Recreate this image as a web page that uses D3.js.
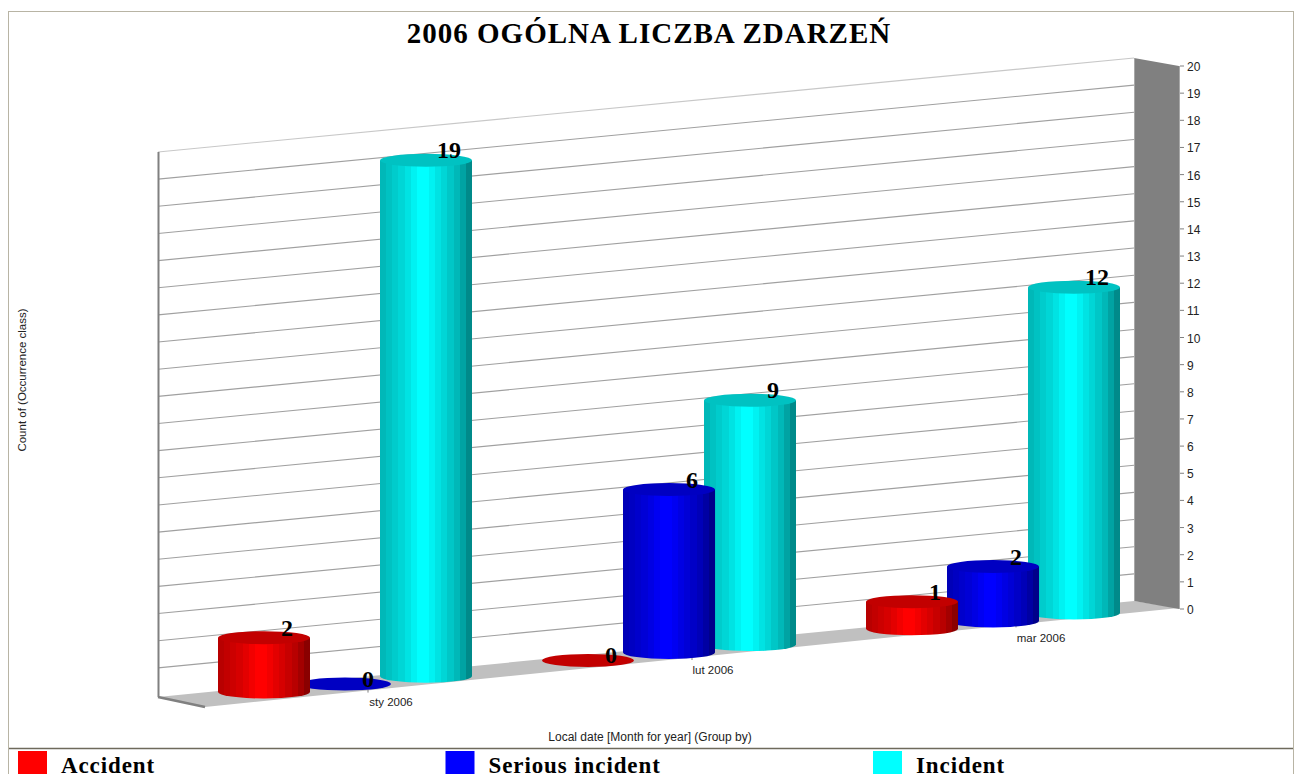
<!DOCTYPE html>
<html><head><meta charset="utf-8">
<style>html,body{margin:0;padding:0;background:#fff;overflow:hidden}svg{display:block}</style>
<script src="https://cdn.jsdelivr.net/npm/d3@7"></script></head>
<body><svg id="c" width="1298" height="774"></svg>
<script>
const titleText = "2006 OGÓLNA LICZBA ZDARZEŃ";
const months = ["sty 2006","lut 2006","mar 2006"];
const seriesNames = ["Accident","Serious incident","Incident"];
const seriesColors = ["#ff0000","#0000ff","#00ffff"];
const accident = [2,0,1];
const serious = [0,6,2];
const incident = [19,9,12];
const yTicks = d3.range(0,21);
const yLabel = "Count of (Occurrence class)";
const xLabel = "Local date [Month for year] (Group by)";
const stripes = [.72,.76,.8,.84,.89,.95,1,1,.95,.89,.84,.78,.72,.64,.54];

const svg = d3.select("#c");
const defs = svg.append("defs");
const serif = "'Liberation Serif','Times New Roman',serif";
const sans = "'Liberation Sans',Arial,sans-serif";

// projection helpers
const wallX = [158,1134];
const backY = d3.scaleLinear().domain(wallX).range([695,601]);   // wall baseline
const frontY = d3.scaleLinear().domain([205,1179]).range([707,609]);
const barBase = d3.scaleLinear().domain([264,1074]).range([692,613]);
const h = d3.scaleLinear().domain([0,20]).range([0,543]);
const xMonth = d3.scalePoint().domain(months).range([345,993]);
const xSeries = d3.scalePoint().domain(seriesNames).range([-81,81]);
const rx = 46, ry = 6.5;

// frame
svg.append("rect").attr("x",8.5).attr("y",11.5).attr("width",1285).attr("height",780)
  .attr("fill","#fff").attr("stroke","#b8b4a4");

// floor
const poly = (pts,fill)=>svg.append("polygon").attr("points",pts.map(p=>p.join(",")).join(" ")).attr("fill",fill);
poly([[158,697],[1134,601],[1179,608],[205,707]],"#c0c0c0");
// right wall
poly([[1134,58],[1179,66],[1179,609],[1134,601]],"#808080");
svg.append("path").attr("d","M1134.5,58V601M1179.5,66V609").attr("stroke","#a8a8a8").attr("fill","none");

// gridlines
svg.append("g").selectAll("line").data(yTicks.slice(1)).join("line")
  .attr("x1",wallX[0]).attr("x2",wallX[1])
  .attr("y1",d=>backY(wallX[0])-h(d)).attr("y2",d=>backY(wallX[1])-h(d))
  .attr("stroke",d=>d===20?"#c8c8c8":"#a0a0a0").attr("stroke-width",1.1);

// left wall edge and left floor edge
svg.append("line").attr("x1",158.5).attr("x2",158.5).attr("y1",152).attr("y2",697).attr("stroke","#808080").attr("stroke-width",2);
svg.append("line").attr("x1",158).attr("x2",205).attr("y1",697).attr("y2",707).attr("stroke","#808080").attr("stroke-width",2.5);

// right axis
const yRight = d3.scaleLinear().domain([0,20]).range([609,66]);
svg.append("g").selectAll("line").data(yTicks).join("line")
  .attr("x1",1180).attr("x2",1184).attr("y1",d=>yRight(d)).attr("y2",d=>yRight(d)).attr("stroke","#808080");
svg.append("g").selectAll("text").data(yTicks).join("text")
  .attr("x",1187).attr("y",d=>yRight(d)+5).text(d=>d)
  .attr("font-family",sans).attr("font-size",12).attr("fill","#222");

// month ticks and labels
const tickX = m => xMonth(m)+23;
const labelX = d3.scaleOrdinal().domain(months).range([391,713,1041]);
const labelY = d3.scalePoint().domain(months).range([706,642]);
svg.append("g").selectAll("line").data(months).join("line")
  .attr("x1",tickX).attr("x2",tickX).attr("y1",m=>frontY(tickX(m))-1).attr("y2",m=>frontY(tickX(m))+2).attr("stroke","#808080");
svg.append("g").selectAll("text").data(months).join("text")
  .attr("x",labelX).attr("y",labelY).attr("text-anchor","middle").text(d=>d)
  .attr("font-family",sans).attr("font-size",11.5).attr("fill","#222");

// gradients
seriesColors.forEach((c,i)=>{
  const g = defs.append("linearGradient").attr("id","g"+i);
  const base = d3.rgb(c);
  stripes.forEach((s,k)=>{
    const col = d3.rgb(base.r*s,base.g*s,base.b*s).formatHex();
    g.append("stop").attr("offset",k/stripes.length).attr("stop-color",col);
    g.append("stop").attr("offset",(k+1)/stripes.length).attr("stop-color",col);
  });
});

// cylinders: Incident at the back, Accident in front
const table = [accident,serious,incident];
const marks = [];
months.forEach((m,mi)=>seriesNames.forEach((s,si)=>{
  marks.push({m,s,si,v:table[si][mi]});
}));
const topTone = c=>{const b=d3.rgb(c);return d3.rgb(b.r*.76,b.g*.76,b.b*.76).formatHex();};
marks.slice().sort((a,b)=>b.si-a.si).forEach(d=>{
  const cx = xMonth(d.m)+xSeries(d.s);
  const by = barBase(cx), ty = by-h(d.v);
  if(d.v>0){
    svg.append("path")
      .attr("d",`M${cx-rx},${ty}V${by}A${rx},${ry} 0 0 0 ${cx+rx},${by}V${ty}Z`)
      .attr("fill",`url(#g${d.si})`);
  }
  svg.append("ellipse").attr("cx",cx).attr("cy",ty).attr("rx",rx).attr("ry",ry)
    .attr("fill",topTone(seriesColors[d.si]));
});
// value labels on top
marks.forEach(d=>{
  const cx = xMonth(d.m)+xSeries(d.s);
  const ty = barBase(cx)-h(d.v);
  svg.append("text").attr("x",cx+23).attr("y",ty+(d.v===0?3:-2)).attr("text-anchor","middle").text(d.v)
    .attr("font-family",serif).attr("font-weight","bold").attr("font-size",24).attr("fill","#000");
});

// title & axis labels
svg.append("text").attr("x",649).attr("y",43).attr("text-anchor","middle").text(titleText)
  .attr("font-family",serif).attr("font-weight","bold").attr("font-size",29).attr("letter-spacing",1).attr("fill","#000");
svg.append("text").attr("x",650).attr("y",741).attr("text-anchor","middle").text(xLabel)
  .attr("font-family",sans).attr("font-size",12).attr("fill","#222");
svg.append("text").attr("transform","translate(26,380) rotate(-90)").attr("text-anchor","middle").text(yLabel)
  .attr("font-family",sans).attr("font-size",11.5).attr("fill","#222");

// legend
svg.append("line").attr("x1",9).attr("x2",1293).attr("y1",748.5).attr("y2",748.5).attr("stroke","#6e6a5c").attr("stroke-width",1.5);
const lx = d3.scalePoint().domain(seriesNames).range([18,873]);
seriesNames.forEach((s,i)=>{
  svg.append("rect").attr("x",lx(s)).attr("y",751).attr("width",29).attr("height",25).attr("fill",seriesColors[i]);
  svg.append("text").attr("x",lx(s)+43).attr("y",773).text(s)
    .attr("font-family",serif).attr("font-weight","bold").attr("font-size",23).attr("letter-spacing",.9).attr("fill","#000");
});
</script></body></html>
